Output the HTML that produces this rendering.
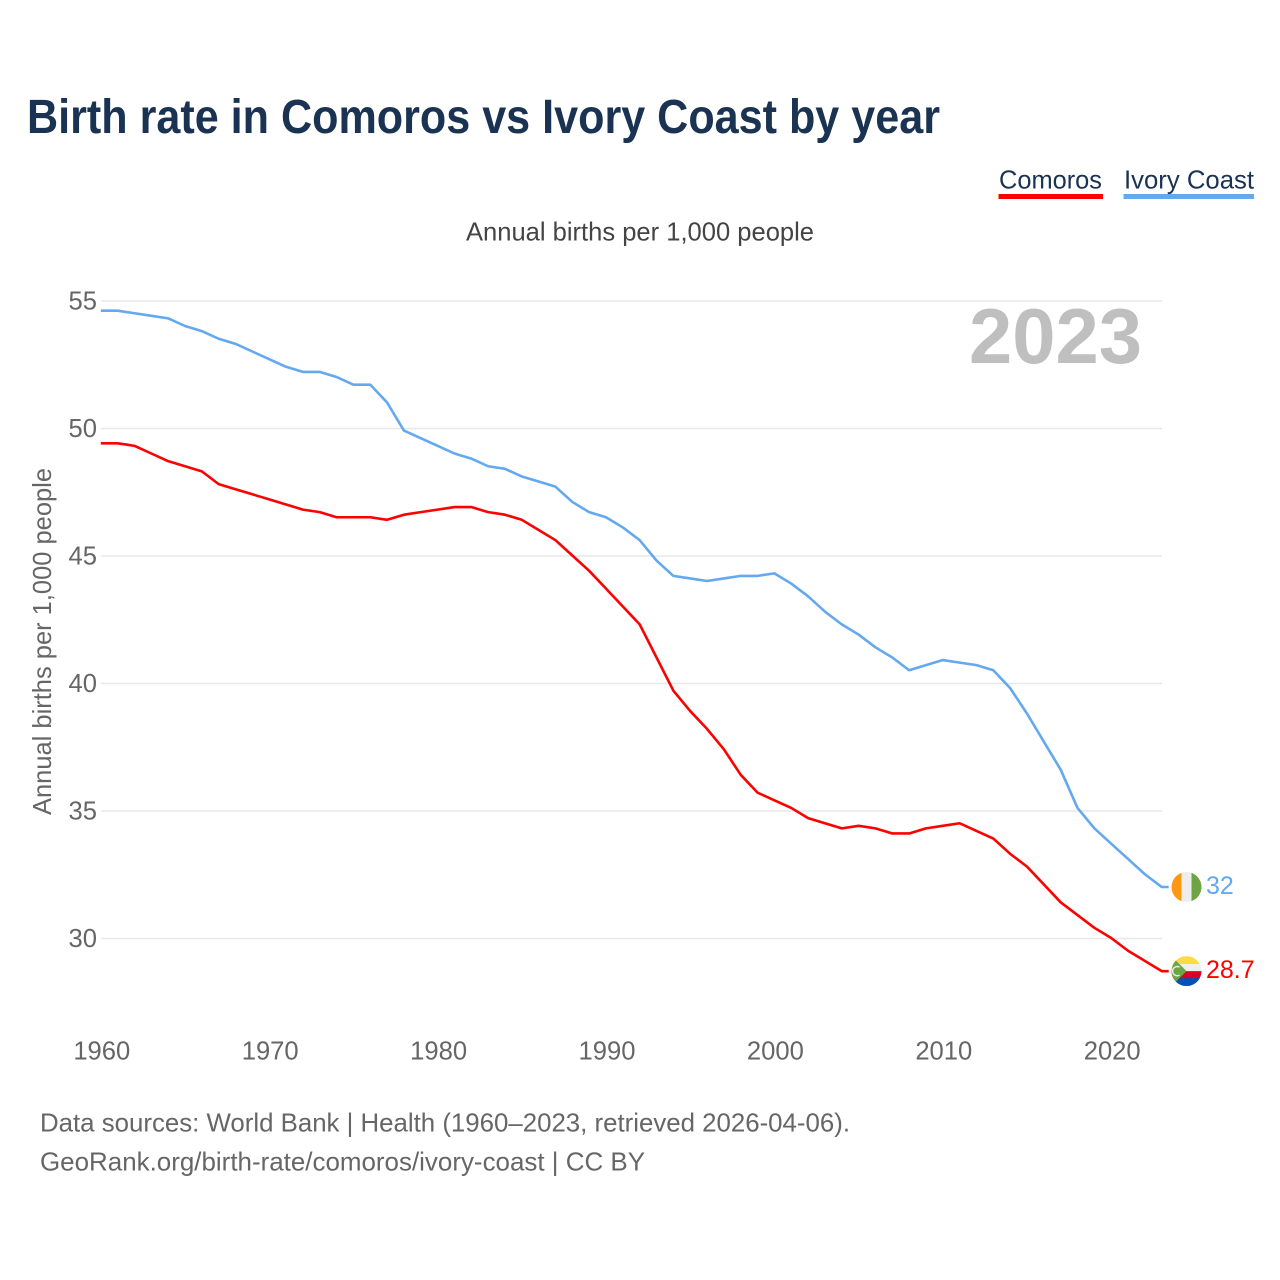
<!DOCTYPE html>
<html lang="en">
<head>
<meta charset="utf-8">
<title>Birth rate in Comoros vs Ivory Coast by year</title>
<style>
  html, body { margin: 0; padding: 0; background: #fff; }
  svg { display: block; font-family: "Liberation Sans", sans-serif; }
</style>
</head>
<body>
<svg id="chart" xmlns="http://www.w3.org/2000/svg" width="1280" height="1280" viewBox="0 0 1280 1280">
  <defs>
    <clipPath id="flag-clip"><circle cx="0" cy="0" r="15"></circle></clipPath>
  </defs>
  <rect x="0" y="0" width="1280" height="1280" fill="#ffffff"></rect>

  <text x="27" y="133" font-size="48" font-weight="700" fill="#1a3352" textLength="913" lengthAdjust="spacingAndGlyphs">Birth rate in Comoros vs Ivory Coast by year</text>

  <g>
    <g>
      <text x="999" y="188.5" font-size="26" fill="#1a3352" textLength="103" lengthAdjust="spacingAndGlyphs">Comoros</text>
      <rect x="998.5" y="194" width="104.5" height="5" fill="#ff0000"></rect>
    </g>
    <g>
      <text x="1124" y="188.5" font-size="26" fill="#1a3352" textLength="130" lengthAdjust="spacingAndGlyphs">Ivory Coast</text>
      <rect x="1123.5" y="194" width="130.5" height="5" fill="#64a8f0"></rect>
    </g>
  </g>

  <text x="466" y="240.5" font-size="26" fill="#444444" textLength="348" lengthAdjust="spacingAndGlyphs">Annual births per 1,000 people</text>

  <text transform="translate(51,815) rotate(-90)" x="0" y="0" font-size="26" fill="#666666" textLength="347" lengthAdjust="spacingAndGlyphs">Annual births per 1,000 people</text>

  <g id="grid"></g>
  <g id="y-ticks"></g>
  <g id="x-ticks"></g>

  <text x="969" y="363" font-size="78" font-weight="700" fill="#bfbfbf" textLength="173" lengthAdjust="spacingAndGlyphs">2023</text>

  <g id="series"></g>

  <g id="flag-ivory-coast" clip-path="url(#flag-clip)">
    <rect x="-15" y="-15" width="10" height="30" fill="#ff9811"></rect>
    <rect x="-5" y="-15" width="10" height="30" fill="#eeeeee"></rect>
    <rect x="5" y="-15" width="10" height="30" fill="#6da544"></rect>
  </g>
  <g id="flag-comoros" clip-path="url(#flag-clip)">
    <rect x="-15" y="-15" width="30" height="8" fill="#ffda44"></rect>
    <rect x="-15" y="-7" width="30" height="8" fill="#eeeeee"></rect>
    <rect x="-15" y="0" width="30" height="8" fill="#d80027"></rect>
    <rect x="-15" y="7" width="30" height="8" fill="#0052b4"></rect>
    <polygon points="-15,-15 -15,15 0,0" fill="#6da544"></polygon>
    <path d="M -7 -4 A 4.6 4.6 0 1 0 -7 4" fill="none" stroke="#eeeeee" stroke-width="1.4"></path>
  </g>

  <g id="end-labels"></g>

  <text x="40" y="1131.5" font-size="26" fill="#666666" textLength="810" lengthAdjust="spacingAndGlyphs">Data sources: World Bank | Health (1960–2023, retrieved 2026-04-06).</text>
  <text x="40" y="1170.5" font-size="26" fill="#666666" textLength="605" lengthAdjust="spacingAndGlyphs">GeoRank.org/birth-rate/comoros/ivory-coast | CC BY</text>
</svg>

<script>
const startYear = 1960;
const yTickValues = [30, 35, 40, 45, 50, 55];
const xTickValues = [1960, 1970, 1980, 1990, 2000, 2010, 2020];
const comorosValues = [
  49.4, 49.4, 49.3, 49.0, 48.7, 48.5, 48.3, 47.8, 47.6, 47.4,
  47.2, 47.0, 46.8, 46.7, 46.5, 46.5, 46.5, 46.4, 46.6, 46.7,
  46.8, 46.9, 46.9, 46.7, 46.6, 46.4, 46.0, 45.6, 45.0, 44.4,
  43.7, 43.0, 42.3, 41.0, 39.7, 38.9, 38.2, 37.4, 36.4, 35.7,
  35.4, 35.1, 34.7, 34.5, 34.3, 34.4, 34.3, 34.1, 34.1, 34.3,
  34.4, 34.5, 34.2, 33.9, 33.3, 32.8, 32.1, 31.4, 30.9, 30.4,
  30.0, 29.5, 29.1, 28.7
];
const ivoryCoastValues = [
  54.6, 54.6, 54.5, 54.4, 54.3, 54.0, 53.8, 53.5, 53.3, 53.0,
  52.7, 52.4, 52.2, 52.2, 52.0, 51.7, 51.7, 51.0, 49.9, 49.6,
  49.3, 49.0, 48.8, 48.5, 48.4, 48.1, 47.9, 47.7, 47.1, 46.7,
  46.5, 46.1, 45.6, 44.8, 44.2, 44.1, 44.0, 44.1, 44.2, 44.2,
  44.3, 43.9, 43.4, 42.8, 42.3, 41.9, 41.4, 41.0, 40.5, 40.7,
  40.9, 40.8, 40.7, 40.5, 39.8, 38.8, 37.7, 36.6, 35.1, 34.3,
  33.7, 33.1, 32.5, 32.0
];

const NS = 'http://www.w3.org/2000/svg';
const xOf = function (year) { return 100.8 + (year - 1960) * 16.84; };
const yOf = function (value) { return 938.5 - (value - 30) * 25.5; };

const gridGroup = document.getElementById('grid');
const yTickGroup = document.getElementById('y-ticks');
const xTickGroup = document.getElementById('x-ticks');
const seriesGroup = document.getElementById('series');
const endLabelGroup = document.getElementById('end-labels');

yTickValues.forEach(function (v) {
  const line = document.createElementNS(NS, 'line');
  
  
  line.setAttribute('x1', 101);
  line.setAttribute('x2', 1162);
  line.setAttribute('y1', yOf(v));
  line.setAttribute('y2', yOf(v));
  line.setAttribute('stroke', '#e8e8e8');
  line.setAttribute('stroke-width', 1.4);
  gridGroup.appendChild(line);

  const label = document.createElementNS(NS, 'text');
  
  
  label.setAttribute('x', 97);
  label.setAttribute('y', yOf(v) + 8.5);
  label.setAttribute('text-anchor', 'end');
  label.setAttribute('font-size', 25.6);
  label.setAttribute('fill', '#666666');
  label.textContent = String(v);
  yTickGroup.appendChild(label);
});

xTickValues.forEach(function (yr) {
  const label = document.createElementNS(NS, 'text');
  
  
  label.setAttribute('x', xOf(yr) + 1);
  label.setAttribute('y', 1059.5);
  label.setAttribute('text-anchor', 'middle');
  label.setAttribute('font-size', 25.6);
  label.setAttribute('fill', '#666666');
  label.textContent = String(yr);
  xTickGroup.appendChild(label);
});

function drawSeries(values, color, name, flagId) {
  const lastIndex = values.length - 1;
  const last = values[lastIndex];
  const parts = values.map(function (v, i) {
    return xOf(startYear + i).toFixed(2) + ',' + (yOf(v) - 0.5).toFixed(2);
  });
  parts.push((xOf(startYear + lastIndex) + 7).toFixed(2) + ',' + (yOf(last) - 0.5).toFixed(2));

  const line = document.createElementNS(NS, 'polyline');
  
  
  line.setAttribute('points', parts.join(' '));
  line.setAttribute('fill', 'none');
  line.setAttribute('stroke', color);
  line.setAttribute('stroke-width', 2.6);
  line.setAttribute('stroke-linejoin', 'round');
  seriesGroup.appendChild(line);

  document.getElementById(flagId).setAttribute('transform', 'translate(1186.5,' + (yOf(last) - 0.5).toFixed(2) + ')');

  const label = document.createElementNS(NS, 'text');
  
  
  label.setAttribute('x', 1206);
  label.setAttribute('y', yOf(last) + 6.5);
  label.setAttribute('font-size', 25);
  label.setAttribute('fill', color);
  label.textContent = String(last);
  endLabelGroup.appendChild(label);
}

drawSeries(ivoryCoastValues, '#64a8f0', 'ivory-coast', 'flag-ivory-coast');
drawSeries(comorosValues, '#ff0000', 'comoros', 'flag-comoros');
</script>
</body>
</html>
